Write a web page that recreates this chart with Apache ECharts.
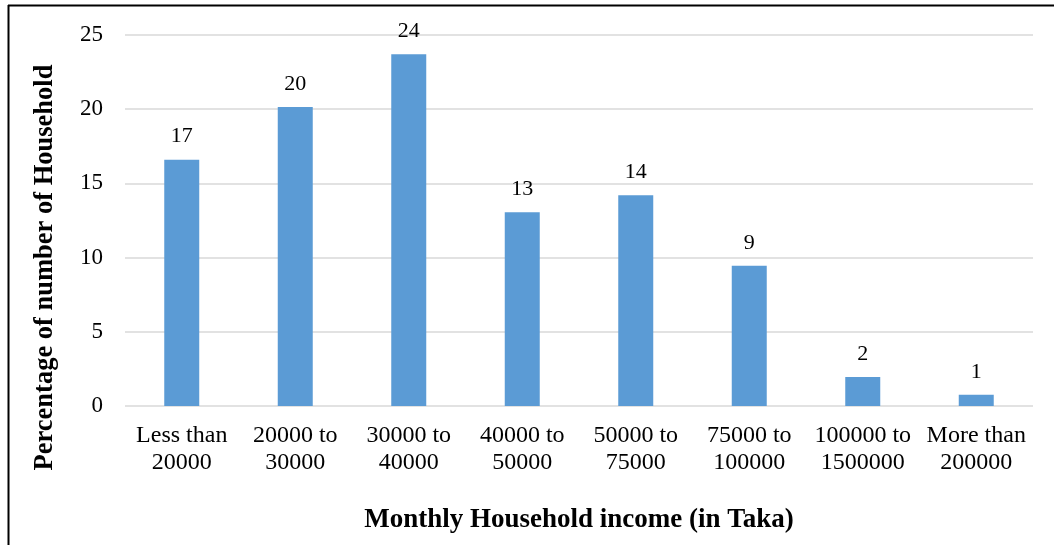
<!DOCTYPE html>
<html>
<head>
<meta charset="utf-8">
<script src="https://cdn.jsdelivr.net/npm/echarts@6/dist/echarts.min.js"></script>
<style>
  html, body { margin: 0; padding: 0; background: #fff; }
  #chart { width: 1054px; height: 545px; }
</style>
</head>
<body>
<div id="chart"></div>
<script>
  // income groups (x axis)
  var categories = ['Less than\n20000', '20000 to\n30000', '30000 to\n40000', '40000 to\n50000',
    '50000 to\n75000', '75000 to\n100000', '100000 to\n1500000', 'More than\n200000']
  // percentage of households
  var percentValues = [16.6, 20.15, 23.7, 13.05, 14.2, 9.45, 1.95, 0.75]
  var yTicks = [0, 5, 10, 15, 20, 25]

  var font = '"Liberation Serif", "Times New Roman", serif'
  var chart = echarts.init(document.getElementById('chart'))

  chart.setOption({
    animation: false,
    textStyle: { fontFamily: font },
    // frame lines of the original figure (top and left only visible)
    graphic: [
      { type: 'line', shape: { x1: 8, y1: 5.5, x2: 1054, y2: 5.5 }, style: { stroke: '#000', lineWidth: 2 } },
      { type: 'line', shape: { x1: 8.5, y1: 5, x2: 8.5, y2: 545 }, style: { stroke: '#000', lineWidth: 2 } }
    ],
    grid: { left: 125, right: 21, top: 35, bottom: 139 },
    xAxis: {
      type: 'category',
      data: categories,
      name: 'Monthly Household income (in Taka)',
      nameLocation: 'middle',
      nameGap: 101,
      nameTextStyle: { fontSize: 27, fontWeight: 'bold', color: '#000', fontFamily: font },
      axisLine: { show: false },
      axisTick: { show: false },
      axisLabel: { color: '#000', fontSize: 24, lineHeight: 27, margin: 16, interval: 0, fontFamily: font }
    },
    yAxis: {
      type: 'value',
      min: yTicks[0],
      max: yTicks[yTicks.length - 1],
      interval: 5,
      name: 'Percentage of number of Household',
      nameLocation: 'middle',
      nameGap: 66,
      // title sits lower than the middle of the axis in the original
      nameTextStyle: { fontSize: 26.5, fontWeight: 'bold', color: '#000', fontFamily: font, padding: [0, 94, 0, 0] },
      axisLine: { show: false },
      axisTick: { show: false },
      axisLabel: { color: '#000', fontSize: 23, margin: 22, fontFamily: font },
      splitLine: { lineStyle: { color: '#d9d9d9', width: 1.5 } }
    },
    series: [{
      type: 'bar',
      data: percentValues,
      barWidth: 35,
      itemStyle: { color: '#5b9bd5' },
      label: {
        show: true,
        position: 'top',
        distance: 12,
        color: '#000',
        fontSize: 22,
        fontFamily: font,
        formatter: function (p) { return Math.round(p.value) }
      }
    }]
  })
</script>
</body>
</html>
